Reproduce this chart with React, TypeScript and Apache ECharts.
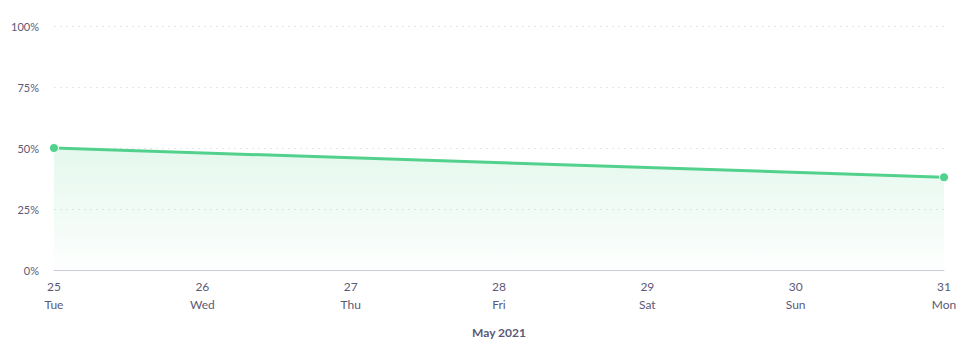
import React, { useEffect, useRef } from "react";
import * as echarts from "echarts";

const days = ["25", "26", "27", "28", "29", "30", "31"];
const weekdays = ["Tue", "Wed", "Thu", "Fri", "Sat", "Sun", "Mon"];
const values: (number | null)[] = [50, null, null, null, null, null, 38];
const yTicks = [0, 25, 50, 75, 100];
const axisTitle = "May 2021";

export default function App() {
  const ref = useRef<HTMLDivElement>(null);
  useEffect(() => {
    document.body.style.margin = "0";
    const chart = echarts.init(ref.current!, null, { renderer: "svg" });
    const textColor = "#5b5977";
    const font = "Lato";
    chart.setOption({
      animation: false,
      grid: { left: 54, right: 26, top: 26, bottom: 87 },
      xAxis: {
        type: "category",
        boundaryGap: false,
        data: days.map((d, i) => d + "\n" + weekdays[i]),
        name: axisTitle,
        nameLocation: "middle",
        nameGap: 56,
        nameTextStyle: { color: textColor, fontSize: 12, fontWeight: "bold", fontFamily: font },
        axisLine: { lineStyle: { color: "#cdcad9", width: 1 } },
        axisTick: { show: false },
        axisLabel: { color: textColor, fontSize: 12, fontFamily: font, lineHeight: 18, margin: 7, interval: 0 },
        splitLine: { show: false },
      },
      yAxis: {
        type: "value",
        min: yTicks[0],
        max: yTicks[yTicks.length - 1],
        interval: 25,
        axisLine: { show: false },
        axisTick: { show: false },
        axisLabel: { color: textColor, fontSize: 11, fontFamily: font, margin: 15, formatter: "{value}%" },
        splitLine: { lineStyle: { color: "#e6e5ee", type: [2, 4], width: 1 } },
      },
      series: [
        {
          type: "line",
          data: values,
          connectNulls: true,
          symbol: "circle",
          symbolSize: 9,
          showSymbol: true,
          lineStyle: { color: "#52d18d", width: 3 },
          itemStyle: { color: "#52d18d", borderColor: "#ffffff", borderWidth: 1 },
          areaStyle: {
            color: new echarts.graphic.LinearGradient(0, 0, 0, 1, [
              { offset: 0, color: "rgba(82,209,141,0.22)" },
              { offset: 1, color: "rgba(82,209,141,0.02)" },
            ]),
          },
        },
      ],
    });
    return () => chart.dispose();
  }, []);
  return (
    <div style={{ position: "relative", width: 970, height: 357, overflow: "hidden" }}>
      <div style={{ position: "absolute", left: 10, top: 0, width: 960, height: 357, overflow: "hidden" }}>
        <div ref={ref} style={{ position: "absolute", left: -10, top: 0, width: 970, height: 357 }} />
      </div>
    </div>
  );
}
